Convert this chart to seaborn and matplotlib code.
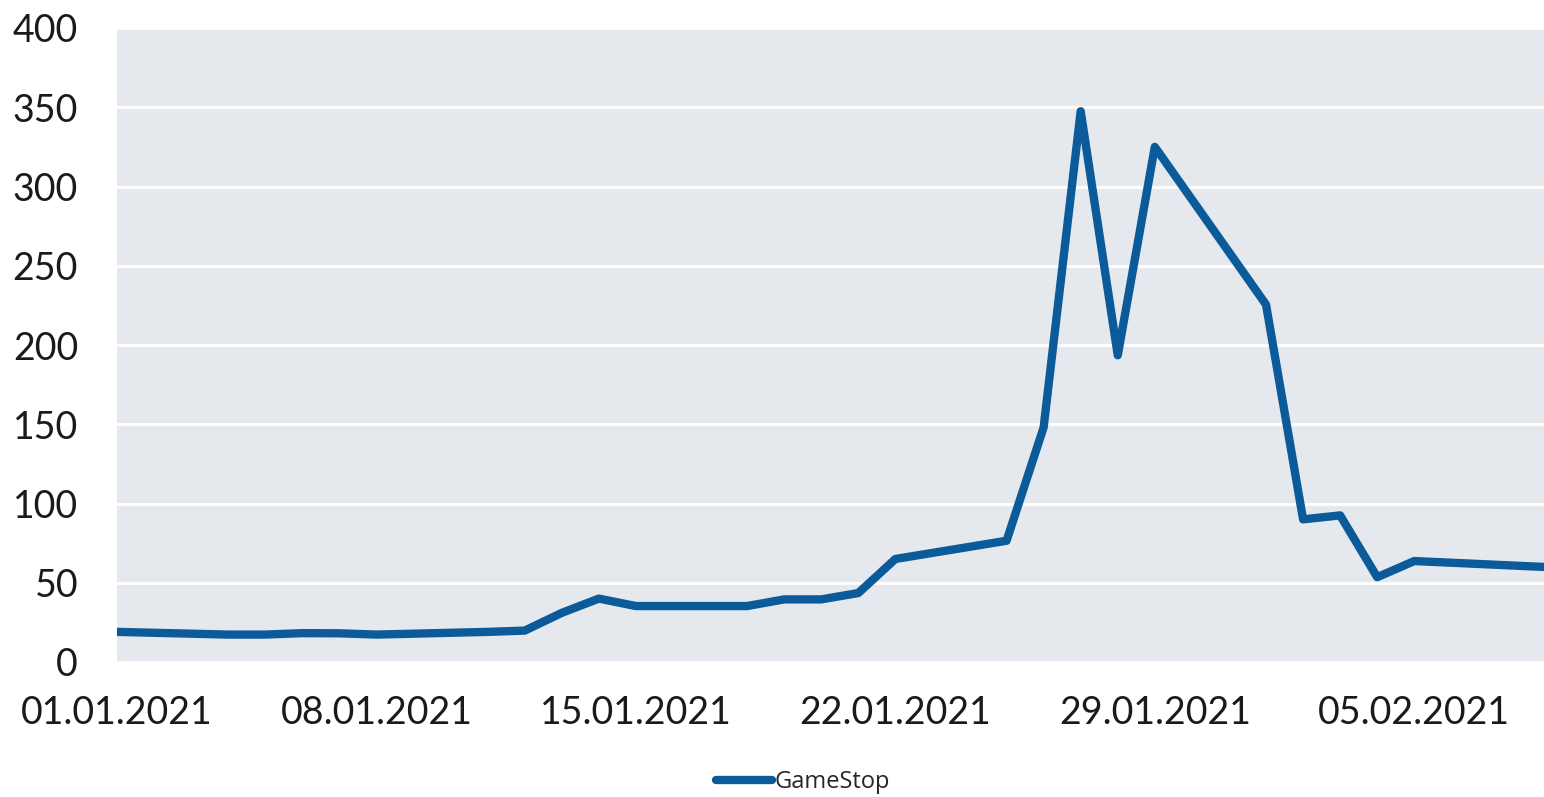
"""GameStop share price, January to early February 2021."""

import matplotlib

matplotlib.use("Agg")
import matplotlib.dates as mdates
import matplotlib.pyplot as plt
import pandas as pd
import seaborn as sns

# trading days (holiday 18.01 carried flat)
DATES = [
    "2021-01-01", "2021-01-04", "2021-01-05", "2021-01-06", "2021-01-07",
    "2021-01-08", "2021-01-11", "2021-01-12", "2021-01-13", "2021-01-14",
    "2021-01-15", "2021-01-18", "2021-01-19", "2021-01-20", "2021-01-21",
    "2021-01-22", "2021-01-25", "2021-01-26", "2021-01-27", "2021-01-28",
    "2021-01-29", "2021-02-01", "2021-02-02", "2021-02-03", "2021-02-04",
    "2021-02-05", "2021-02-08", "2021-02-09",
]
GAMESTOP = [
    19.0, 17.3, 17.3, 18.2, 18.1,
    17.3, 19.0, 19.8, 31.0, 40.0,
    35.3, 35.3, 39.5, 39.5, 43.5,
    65.0, 76.5, 148.0, 347.5, 193.5,
    325.0, 225.5, 90.0, 92.5, 53.5,
    63.7, 60.5, 59.5,
]
X_TICKS = ["2021-01-01", "2021-01-08", "2021-01-15", "2021-01-22",
           "2021-01-29", "2021-02-05"]
Y_TICKS = [0, 50, 100, 150, 200, 250, 300, 350, 400]

LINE_BLUE = "#0b5a9a"
PANEL = "#e5e9ed"

df = pd.DataFrame({"date": pd.to_datetime(DATES), "GameStop": GAMESTOP})

sns.set_theme(style="white")
plt.rcParams["font.family"] = ["Lato", "DejaVu Sans"]

fig = plt.figure(figsize=(15.44, 7.97), dpi=100)
ax = fig.add_axes([117 / 1544, 135 / 797, 1 - 117 / 1544, 634 / 797])
ax.set_facecolor(PANEL)

sns.lineplot(data=df, x="date", y="GameStop", ax=ax, color=LINE_BLUE,
             linewidth=6, label="GameStop", legend=False,
             solid_joinstyle="round", solid_capstyle="round")

ax.set_ylim(0, 400)
ax.set_xlim(pd.Timestamp("2021-01-01"), pd.Timestamp("2021-02-08 12:00"))
ax.set_yticks(Y_TICKS)
ax.set_xticks(pd.to_datetime(X_TICKS))
ax.xaxis.set_major_formatter(mdates.DateFormatter("%d.%m.%Y"))

ax.grid(axis="y", color="white", linewidth=2)
ax.grid(axis="x", visible=False)
ax.set_axisbelow(True)
for side in ax.spines.values():
    side.set_visible(False)

ax.tick_params(axis="y", length=0, pad=28, labelsize=27, labelcolor="#1a1a1a")
ax.tick_params(axis="x", length=0, pad=24, labelsize=27, labelcolor="#1a1a1a")
ax.set_xlabel("")
ax.set_ylabel("")

handles, labels = ax.get_legend_handles_labels()
leg = fig.legend(handles, labels, loc="center",
                 bbox_to_anchor=(803 / 1544, 1 - 782 / 797), frameon=False,
                 prop={"family": ["Open Sans", "DejaVu Sans"], "size": 17},
                 handlelength=2.4, handletextpad=0.1)

fig.savefig("out.png", dpi=100)
